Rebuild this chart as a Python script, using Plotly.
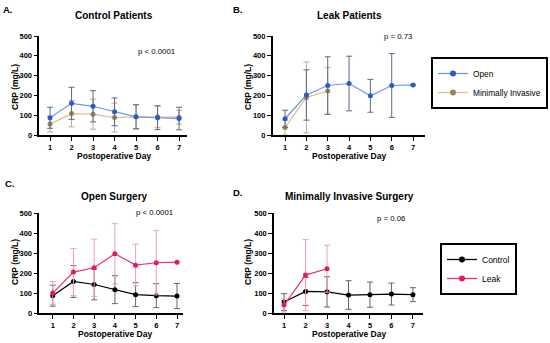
import plotly.graph_objects as go

W, H = 550, 343
days = [1, 2, 3, 4, 5, 6, 7]
days3 = [1, 2, 3]

# Panel A: Control patients
a_open = [87, 160, 145, 117, 92, 87, 83]
a_open_sd = [53, 81, 79, 70, 60, 60, 57]
a_mi = [55, 108, 105, 88, 92, 92, 90]
a_mi_sd = [40, 67, 76, 73, 62, 55, 35]
# Panel B: Leak patients
b_open = [82, 202, 250, 260, 198, 250, 253]
b_open_sd = [43, 127, 145, 138, 83, 161, 0]
b_mi = [38, 190, 222]
b_mi_sd = [38, 179, 118]
# Panel C: Open surgery
c_ctrl = [87, 158, 143, 117, 92, 87, 85]
c_ctrl_sd = [53, 80, 77, 70, 60, 60, 63]
c_leak = [100, 205, 227, 297, 240, 252, 255]
c_leak_sd = [58, 118, 143, 151, 105, 161, 0]
# Panel D: Minimally invasive surgery
d_ctrl = [55, 108, 106, 90, 92, 95, 92]
d_ctrl_sd = [42, 70, 76, 72, 63, 55, 35]
d_leak = [40, 190, 222]
d_leak_sd = [35, 178, 118]

y_ticks = [0, 100, 200, 300, 400, 500]

FONT = "Liberation Sans, Arial, sans-serif"
BLUE_M, BLUE_L, BLUE_E = "#2c5bc6", "#6f96e6", "#5a6a88"
TAN_M, TAN_L, TAN_E = "#9b8458", "#dcbf92", "#c2ab80"
PINK_M, PINK_L, PINK_E = "#e5176d", "#ee2c7c", "#f59cc2"
BLK_M, BLK_L, BLK_E = "#000000", "#000000", "#666666"


def px(x):
    return x / W


def py(y):
    return 1 - y / H


fig = go.Figure()

panels = [
    # (axis suffix, x domain px, y domain px, x range)
    ("", (39.3, 187), (36, 135), (0.50, 7.37)),
    ("2", (272.7, 425), (36, 135), (0.42, 7.56)),
    ("3", (39.3, 183), (213.3, 313), (0.35, 7.29)),
    ("4", (274, 423), (213.3, 313), (0.53, 7.47)),
]


def add_series(suffix, x, y, sd, mc, lc, ec, name, legend, show):
    fig.add_trace(go.Scatter(
        x=x, y=y, mode="lines+markers", name=name,
        line=dict(color=lc, width=1.2),
        marker=dict(color=mc, size=5, symbol="circle"),
        error_y=dict(type="data", array=sd, visible=True, color=ec,
                     thickness=1, width=3),
        xaxis="x" + suffix, yaxis="y" + suffix,
        showlegend=show, legend=legend,
    ))


add_series("", days, a_mi, a_mi_sd, TAN_M, TAN_L, TAN_E, "Minimally Invasive", "legend", False)
add_series("", days, a_open, a_open_sd, BLUE_M, BLUE_L, BLUE_E, "Open", "legend", False)
add_series("2", days3, b_mi, b_mi_sd, TAN_M, TAN_L, TAN_E, "Minimally Invasive", "legend", False)
add_series("2", days, b_open, b_open_sd, BLUE_M, BLUE_L, BLUE_E, "Open", "legend", False)
add_series("3", days, c_ctrl, c_ctrl_sd, BLK_M, BLK_L, BLK_E, "Control", "legend2", False)
add_series("3", days, c_leak, c_leak_sd, PINK_M, PINK_L, PINK_E, "Leak", "legend2", False)
add_series("4", days, d_ctrl, d_ctrl_sd, BLK_M, BLK_L, BLK_E, "Control", "legend2", False)
add_series("4", days3, d_leak, d_leak_sd, PINK_M, PINK_L, PINK_E, "Leak", "legend2", False)

# legend-only traces (ordered as in reference)
for name, mc, lc, lg in [("Open", BLUE_M, BLUE_L, "legend"),
                         ("Minimally Invasive", TAN_M, TAN_L, "legend"),
                         ("Control", BLK_M, BLK_L, "legend2"),
                         ("Leak", PINK_M, PINK_L, "legend2")]:
    fig.add_trace(go.Scatter(x=[None], y=[None], mode="lines+markers", name=name,
                             line=dict(color=lc, width=1.3),
                             marker=dict(color=mc, size=6),
                             xaxis="x", yaxis="y", showlegend=True, legend=lg))

layout = dict(
    width=W, height=H, margin=dict(l=0, r=0, t=0, b=0, autoexpand=False),
    paper_bgcolor="white", plot_bgcolor="white",
    font=dict(family=FONT, color="black"),
    legend=dict(x=px(431), y=py(57), xanchor="left", yanchor="top",
                bgcolor="white", bordercolor="black", borderwidth=2,
                font=dict(size=8.3, family=FONT), tracegroupgap=0,
                itemwidth=30),
    legend2=dict(x=px(440), y=py(243), xanchor="left", yanchor="top",
                 bgcolor="white", bordercolor="black", borderwidth=2,
                 font=dict(size=8.5, family=FONT), tracegroupgap=0,
                 itemwidth=30),
)

for suffix, (x0, x1), (y0, y1), xr in panels:
    layout["xaxis" + suffix] = dict(
        domain=[px(x0), px(x1)], range=list(xr), anchor="y" + suffix,
        tickvals=days, ticktext=[f"<b>{d}</b>" for d in days],
        ticks="outside", ticklen=4, tickwidth=1.2, tickcolor="black",
        showline=True, linecolor="black", linewidth=1.5,
        showgrid=False, zeroline=False, fixedrange=True,
        tickfont=dict(size=7.5, family=FONT),
    )
    layout["yaxis" + suffix] = dict(
        domain=[py(y1), py(y0)], range=[0, 500], anchor="x" + suffix,
        tickvals=y_ticks, ticktext=[f"<b>{v}</b>" for v in y_ticks],
        ticks="outside", ticklen=4, tickwidth=1.2, tickcolor="black",
        showline=True, linecolor="black", linewidth=1.5,
        showgrid=False, zeroline=False, fixedrange=True,
        tickfont=dict(size=7.5, family=FONT),
    )

fig.update_layout(**layout)

annots = [
    ("<b>A.</b>", 8, 10, 9.5),
    ("<b>B.</b>", 238, 9, 9.5),
    ("<b>C.</b>", 10, 183, 9.5),
    ("<b>D.</b>", 238, 192, 9.5),
    ("<b>Control Patients</b>", 114, 15, 10),
    ("<b>Leak Patients</b>", 349, 15, 10),
    ("<b>Open Surgery</b>", 115, 197, 10),
    ("<b>Minimally Invasive Surgery</b>", 349, 197, 10),
    ("p < 0.0001", 156, 51, 7.8),
    ("p = 0.73", 398, 37, 7.8),
    ("p < 0.0001", 154, 212, 7.8),
    ("p = 0.06", 391, 218, 7.8),
    ("<b>Postoperative Day</b>", 114, 156, 8.5),
    ("<b>Postoperative Day</b>", 349, 156, 8.5),
    ("<b>Postoperative Day</b>", 115, 334, 8.5),
    ("<b>Postoperative Day</b>", 349, 334, 8.5),
]
for text, x, y, s in annots:
    fig.add_annotation(text=text, x=px(x), y=py(y), xref="paper", yref="paper",
                       showarrow=False, xanchor="center", yanchor="middle",
                       font=dict(size=s, family=FONT, color="black"))

for x, y in [(15, 87), (248, 87), (15, 262), (248, 262)]:
    fig.add_annotation(text="<b>CRP (mg/L)</b>", x=px(x), y=py(y), xref="paper", yref="paper",
                       showarrow=False, textangle=-90, xanchor="center", yanchor="middle",
                       font=dict(size=8.5, family=FONT, color="black"))

fig.write_html("out.html", config={"displayModeBar": False},
               post_script="document.body.style.margin='0px';document.body.style.overflow='hidden';")
